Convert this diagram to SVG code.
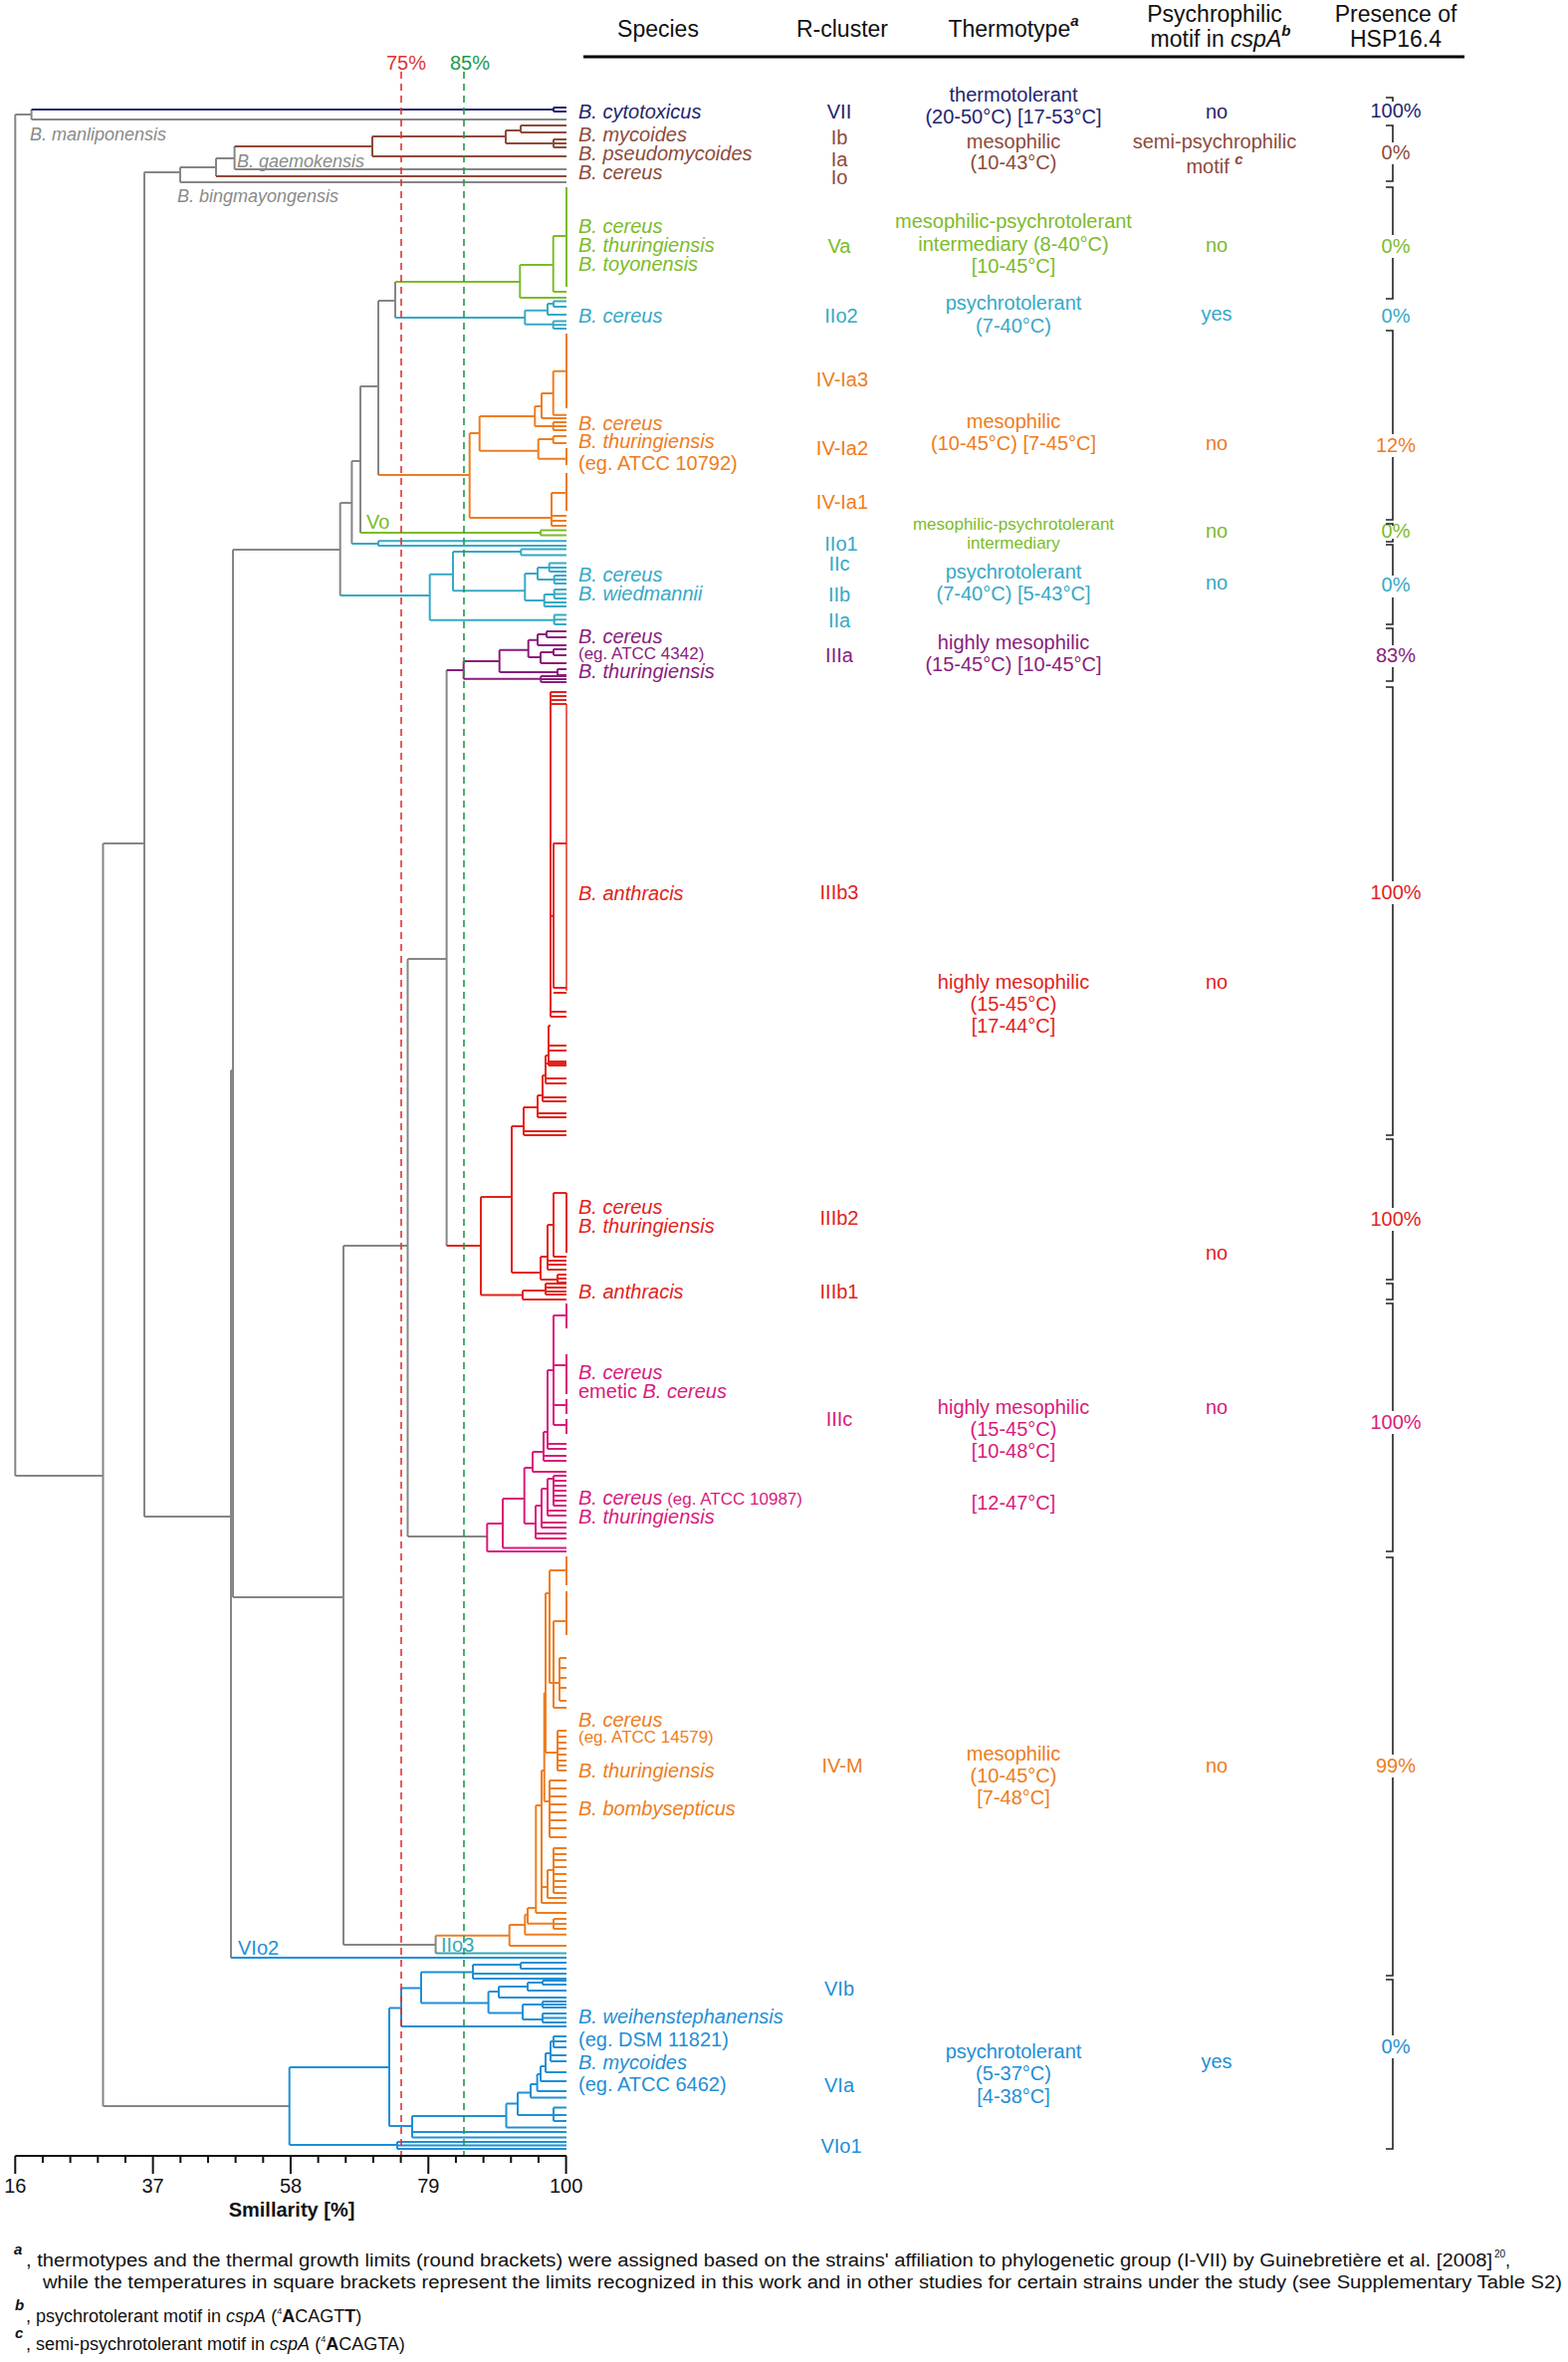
<svg xmlns="http://www.w3.org/2000/svg" width="1575" height="2372" viewBox="0 0 1575 2372">
<style>
text{font-family:"Liberation Sans",Arial,sans-serif}
.l{fill:none;stroke-width:2}
.gy{stroke:#868686}.nv{stroke:#24246e}.bn{stroke:#8d4b3b}.gn{stroke:#7cbb2b}.cy{stroke:#36a9c6}.or{stroke:#ee7d21}.pu{stroke:#8a1d7c}.rd{stroke:#e2231c}.mg{stroke:#d91b7c}.bl{stroke:#1f8fd6}.tl{stroke:#3aa8b4}
.fgy{fill:#8a8a8a}.fnv{fill:#24246e}.fbn{fill:#8d4b3b}.fgn{fill:#7cbb2b}.fcy{fill:#36a9c6}.for{fill:#ee7d21}.fpu{fill:#8a1d7c}.frd{fill:#e2231c}.fmg{fill:#d91b7c}.fbl{fill:#1f8fd6}.ftl{fill:#3aa8b4}
.hd{font-size:23px;text-anchor:middle;fill:#111}
.sp{font-size:20px;font-style:italic}
.sg{font-size:18px;font-style:italic}
.sm{font-size:17px;font-style:normal}
.rc{font-size:20px;text-anchor:middle}
.c{font-size:20px;text-anchor:middle}
.c17{font-size:17px;text-anchor:middle}
.br{fill:none;stroke:#222;stroke-width:1.6}
.ax{fill:none;stroke:#111;stroke-width:2}
.tk{font-size:20px;text-anchor:middle;fill:#111}
.fn{font-size:18px;fill:#111}
.fs{font-size:15px;fill:#111;font-weight:bold;font-style:italic}
.f10{font-size:10px;fill:#111}
.sup{font-weight:bold;font-style:italic}
</style>
<rect width="1575" height="2372" fill="#fff"/>

<g id="header">
<text class="hd" x="661" y="37">Species</text>
<text class="hd" x="846" y="37">R-cluster</text>
<text class="hd" x="1018" y="37">Thermotype<tspan class="sup" font-size="15" dy="-11">a</tspan></text>
<text class="hd" x="1220" y="22">Psychrophilic</text>
<text class="hd" x="1226" y="47">motif in <tspan font-style="italic">cspA</tspan><tspan class="sup" font-size="15" dy="-11">b</tspan></text>
<text class="hd" x="1402" y="22">Presence of</text>
<text class="hd" x="1402" y="47">HSP16.4</text>
<path d="M586 57 H1471" stroke="#000" stroke-width="3"/>
</g>

<g id="connectors">
<path class="l gy" d="M15.3 115 V1482 M15.3 115 H31.6 M31.6 110 V120 M31.6 120 H569 M15.3 1482 H103.5 M103.5 847 V2115 M103.5 847 H145 M145 173 V1523 M145 1523 H232 M145 173 H181 M181 168 V183 M181 183 H569 M181 168 H217 M217 159 V177 M217 159 H235.6 M235.6 147 V170 M235.6 170 H569 M232 1075 V1966 M232 1075 H234 M234 552 V1604 M234 552 H341.7 M341.7 505 V598 M341.7 505 H353.4 M353.4 463 V546 M353.4 463 H362 M362 388 V535 M362 388 H380 M380 302 V477 M380 302 H397 M397 283 V319 M234 1604 H345 M345 1251 V1953 M345 1251 H409.5 M409.5 963 V1543 M409.5 963 H448.6 M448.6 673 V1251 M409.5 1543 H489.3 M345 1953 H437.6 M437.6 1943.7 V1961.6 M103.5 2115 H290.7"/>
<path class="l nv" d="M31.6 110 H556 M556 108 V112 M556 108 H569 M556 112 H569"/>
<path class="l bn" d="M217 177 H569 M235.6 147 H374 M374 137 V157 M374 157 H569 M374 137 H508 M508 131 V144 M508 131 H523 M523 126 V133 M523 126 H569 M523 133 H569 M508 144 H556 M556 140 V148 M556 140 H569 M556 144 H569 M556 148 H569"/>
<path class="l gn" d="M397 283 H522.3 M522.3 266 V299 M522.3 266 H555.7 M555.7 237 V293 M555.7 237 H569 M569 188 V288 M555.7 293 H569 M522.3 299 H569 M362 535 H543 M543 532.5 V537.5 M543 532.5 H569 M543 537.5 H569"/>
<path class="l cy" d="M397 319 H527.3 M527.3 311.7 V325.7 M527.3 311.7 H550 M550 305 V316 M550 305 H556 M556 302.5 V308 M556 302.5 H569 M556 308 H569 M550 316 H569 M527.3 325.7 H555.7 M555.7 322.5 V330 M555.7 322.5 H569 M555.7 326.3 H569 M555.7 330 H569 M353.4 546 H380 M380 543.3 V548 M380 543.3 H569 M380 548 H569 M341.7 598 H431.7 M431.7 576.7 V622.7 M431.7 576.7 H455 M455 554 V593.3 M455 554 H523.3 M523.3 551.5 V557.5 M523.3 551.5 H569 M523.3 557.5 H569 M455 593.3 H527.3 M527.3 576 V603 M527.3 576 H540 M540 570 V582 M540 570 H551.7 M551.7 565.5 V574 M551.7 565.5 H569 M551.7 570 H569 M551.7 574 H569 M540 582 H556.7 M556.7 578 V586 M556.7 578 H569 M556.7 582 H569 M556.7 586 H569 M527.3 603 H546.7 M546.7 597 V609 M546.7 597 H556.7 M556.7 592 V601 M556.7 592 H569 M556.7 596.5 H569 M556.7 601 H569 M546.7 605 H569 M546.7 609 H569 M431.7 622.7 H556.7 M556.7 617.5 V627 M556.7 617.5 H569 M556.7 622.3 H569 M556.7 627 H569"/>
<path class="l or" d="M380 477 H471.7 M471.7 435 V520 M471.7 435 H481.7 M481.7 418 V452.7 M481.7 418 H537.3 M537.3 408 V428 M537.3 408 H544 M544 395 V420 M544 395 H555.7 M555.7 372.7 V416.7 M555.7 372.7 H569 M569 335 V410 M555.7 416.7 H569 M544 420 H569 M537.3 428 H555.7 M555.7 424 V432 M555.7 424 H569 M555.7 428 H569 M555.7 432 H569 M481.7 452.7 H540.7 M540.7 441 V460.7 M540.7 441 H555.7 M555.7 438 V445 M555.7 438 H569 M555.7 445 H569 M540.7 460.7 H569 M569 450 V467 M471.7 520 H554 M554 495 V528 M554 495 H569 M569 475 V513 M554 518 H569 M554 523 H569 M554 528 H569"/>
<path class="l pu" d="M448.6 673 H465.7 M465.7 664 V681.7 M465.7 664 H501.7 M501.7 652.7 V675 M501.7 652.7 H530.7 M530.7 642.7 V660 M530.7 642.7 H540 M540 637 V648 M540 637 H549 M549 634 V640 M549 634 H569 M549 640 H569 M540 648 H569 M530.7 660 H543 M543 655 V666 M543 655 H556 M556 652 V658 M556 652 H569 M556 658 H569 M543 666 H569 M501.7 675 H560 M560 672 V678 M560 672 H569 M560 678 H569 M465.7 681.7 H543.3 M543.3 679 V685 M543.3 679 H569 M543.3 682 H569 M543.3 685 H569"/>
<path class="l rd" d="M448.6 1251 H483 M483 1202 V1300.5 M483 1202 H514 M483 1300.5 H525 M525 1296 V1305 M525 1296 H548 M548 1289 V1300 M548 1289 H569 M548 1293 H569 M548 1297 H569 M548 1300 H569 M525 1305 H569 M514 1131 V1278 M514 1131 H526 M514 1278 H543 M543 1262 V1285 M543 1262 H550 M550 1230 V1275 M550 1230 H556 M556 1198 V1262 M556 1198 H569 M569 1198 V1258 M556 1262 H569 M550 1266 H569 M550 1270 H569 M550 1275 H569 M543 1285 H560 M560 1280 V1288 M560 1280 H569 M560 1284 H569 M560 1288 H569 M526 1112 V1140 M526 1140 H569 M526 1136 H569 M526 1112 H540 M540 1100 V1122 M540 1122 H569 M540 1118 H569 M540 1100 H545 M545 1080 V1106 M545 1106 H569 M545 1102 H569 M545 1080 H548 M548 1060 V1088 M548 1088 H569 M548 1083 H569 M548 1068 H569 M548 1060 H551 M551 1030 V1070 M551 1070 H569 M551 1066 H569 M551 1050 H569 M551 1055 H569 M551 1030 H553 M553 695 V1021 M553 1021 H569 M553 1016 H569 M553 695 H569 M553 699 H569 M553 703 H569 M553 707 H569 M553 920 H556 M556 847 V992 M556 847 H569 M556 992 H569 M556 997 H569"/>
<path class="rd" fill="none" stroke-width="1.4" d="M569 707 V995"/>
<path class="l mg" d="M489.3 1530 V1558 M489.3 1558 H569 M489.3 1530 H505 M505 1505 V1554.5 M505 1554.5 H569 M505 1505 H526.7 M526.7 1474 V1530 M526.7 1530 H538 M538 1512 V1545 M538 1545 H569 M538 1540 H569 M538 1512 H544 M544 1495 V1534 M544 1534 H569 M544 1529 H569 M544 1495 H550 M550 1485 V1522 M550 1522 H569 M550 1517 H569 M550 1485 H556 M556 1482 V1512 M556 1482 H569 M556 1487 H569 M556 1492 H569 M556 1497 H569 M556 1502 H569 M556 1507 H569 M556 1512 H569 M526.7 1474 H535 M535 1458 V1478 M535 1478 H569 M535 1458 H546 M546 1438 V1467 M546 1467 H569 M546 1462 H569 M546 1438 H550 M550 1376 V1455 M550 1455 H569 M550 1450 H569 M550 1376 H556 M556 1321 V1431 M556 1431 H569 M556 1411 H569 M556 1371 H569 M556 1321 H569 M569 1309 V1334 M569 1360 V1400 M569 1405 V1420 M569 1425 V1440"/>
<path class="l or" d="M437.6 1943.7 H511.7 M511.7 1933 V1954 M511.7 1954 H569 M511.7 1933 H527.3 M527.3 1922.7 V1942.8 M527.3 1942.8 H569 M527.3 1922.7 H530 M530 1916 V1931.7 M530 1931.7 H556 M556 1927 V1937 M556 1927 H569 M556 1932 H569 M556 1937 H569 M530 1916 H538.3 M538.3 1813 V1921 M538.3 1921 H569 M538.3 1813 H544 M544 1778 V1911 M544 1911 H569 M544 1895 H550 M550 1878 V1906 M550 1906 H569 M550 1878 H556 M556 1856 V1901 M556 1856 H569 M556 1862 H569 M556 1868 H569 M556 1875 H569 M556 1882 H569 M556 1889 H569 M556 1895 H569 M556 1901 H569 M544 1778 H546.7 M546.7 1700 V1809 M546.7 1809 H552 M552 1788 V1845 M552 1788 H569 M552 1796 H569 M552 1804 H569 M552 1812 H569 M552 1820 H569 M552 1828 H569 M552 1836 H569 M552 1845 H569 M546.7 1700 H548 M548 1600 V1760 M548 1760 H560 M560 1738 V1778 M560 1738 H569 M560 1744 H569 M560 1750 H569 M560 1756 H569 M560 1762 H569 M560 1768 H569 M560 1773 H569 M560 1778 H569 M548 1600 H552 M552 1577 V1690 M552 1577 H569 M569 1563 V1592 M552 1690 H556 M556 1628 V1715 M556 1628 H569 M569 1598 V1642 M556 1715 H569 M556 1690 H562 M562 1665 V1708 M562 1665 H569 M562 1675 H569 M562 1685 H569 M562 1695 H569 M562 1708 H569"/>
<path class="l tl" d="M437.6 1961.6 H569"/>
<path class="l bl" d="M232 1966 H569 M290.7 2076 V2154 M290.7 2076 H391 M290.7 2154 H399 M399 2151 V2158 M399 2151 H569 M399 2154.5 H569 M399 2158 H569 M391 2016.6 V2135 M391 2016.6 H403 M391 2135 H414 M403 1996.6 V2035 M403 2035 H569 M403 1996.6 H423 M423 1980.6 V2011.6 M423 1980.6 H475 M475 1973 V1987 M475 1973 H523 M523 1971 V1977 M523 1971 H569 M523 1977 H569 M475 1982 H569 M475 1987 H569 M423 2011.6 H490.6 M490.6 2000 V2021.6 M490.6 2000 H501 M501 1995 V2006 M501 1995 H530 M530 1991 V1999 M530 1991 H545 M545 1989 V1993 M545 1989 H569 M545 1993 H569 M530 1999 H569 M501 2006 H569 M490.6 2021.6 H525 M525 2013 V2028 M525 2013 H545 M545 2010 V2016 M545 2010 H569 M545 2013 H569 M545 2016 H569 M525 2028 H545 M545 2022 V2031 M545 2022 H569 M545 2026.5 H569 M545 2031 H569 M414 2125 V2146.6 M414 2146.6 H569 M414 2141 H569 M414 2125 H508.5 M508.5 2112.6 V2136.6 M508.5 2136.6 H569 M508.5 2112.6 H520 M520 2101.6 V2124 M520 2124 H556 M556 2116.6 V2130 M556 2116.6 H569 M556 2124 H569 M556 2130 H569 M520 2101.6 H533 M533 2093 V2106.6 M533 2106.6 H569 M533 2093 H539.6 M539.6 2083 V2100 M539.6 2100 H569 M539.6 2083 H543 M543 2075 V2090 M543 2090 H569 M543 2075 H548 M548 2062 V2081 M548 2081 H569 M548 2062 H553 M553 2050 V2070 M553 2070 H569 M553 2064 H569 M553 2050 H556 M556 2045 V2056 M556 2045 H569 M556 2050 H569 M556 2056 H569"/>
<path d="M403 72 V2165" fill="none" stroke="#e03333" stroke-width="1.6" stroke-dasharray="7 5"/>
<path d="M466 72 V2165" fill="none" stroke="#1e9a48" stroke-width="1.6" stroke-dasharray="7 5"/>
</g>

<g id="cutoffs">
<text x="408" y="70" font-size="20" text-anchor="middle" fill="#e03333">75%</text>
<text x="472" y="70" font-size="20" text-anchor="middle" fill="#1e9a48">85%</text>
</g>

<g id="inner-labels">
<text class="sg fgy" x="30" y="141">B. manliponensis</text>
<text class="sg fgy" x="238" y="168">B. gaemokensis</text>
<text class="sg fgy" x="178" y="203">B. bingmayongensis</text>
<text class="fgn" x="368" y="531" font-size="20">Vo</text>
<text class="fbl" x="239" y="1963" font-size="20">VIo2</text>
<text class="ftl" x="443" y="1960" font-size="20">IIo3</text>
</g>

<g id="axis">
<path class="ax" d="M15.3 2165 H569" stroke-width="2.5"/>
<path class="ax" stroke-width="1.6" d="M15.3 2165 v18 M42.97 2165 v7 M70.63 2165 v7 M98.3 2165 v7 M125.96 2165 v7 M153.63 2165 v18 M181.29 2165 v7 M208.96 2165 v7 M236.62 2165 v7 M264.29 2165 v7 M291.95 2165 v18 M319.62 2165 v7 M347.28 2165 v7 M374.95 2165 v7 M402.61 2165 v7 M430.28 2165 v18 M457.94 2165 v7 M485.61 2165 v7 M513.27 2165 v7 M540.94 2165 v7 M568.6 2165 v18"/>
<text class="tk" x="15.3" y="2202">16</text>
<text class="tk" x="153.6" y="2202">37</text>
<text class="tk" x="292" y="2202">58</text>
<text class="tk" x="430.3" y="2202">79</text>
<text class="tk" x="568.6" y="2202">100</text>
<text class="tk" x="293" y="2226" font-weight="bold">Smillarity [%]</text>
</g>

<g id="row-VII">
<text class="sp fnv" x="581" y="119">B. cytotoxicus</text>
<text class="rc fnv" x="843" y="119">VII</text>
<text class="c fnv" x="1018" y="102">thermotolerant</text>
<text class="c fnv" x="1018" y="124">(20-50°C) [17-53°C]</text>
<text class="c fnv" x="1222" y="119">no</text>
<text class="c fnv" x="1402" y="118">100%</text>
</g>
<g id="row-I">
<text class="sp fbn" x="581" y="142">B. mycoides</text>
<text class="sp fbn" x="581" y="161">B. pseudomycoides</text>
<text class="sp fbn" x="581" y="180">B. cereus</text>
<text class="rc fbn" x="843" y="145">Ib</text>
<text class="rc fbn" x="843" y="167">Ia</text>
<text class="rc fbn" x="843" y="185">Io</text>
<text class="c fbn" x="1018" y="149">mesophilic</text>
<text class="c fbn" x="1018" y="170">(10-43°C)</text>
<text class="c fbn" x="1220" y="149">semi-psychrophilic</text>
<text class="c fbn" x="1220" y="174">motif <tspan class="sup" font-size="15" dy="-9">c</tspan></text>
<text class="c fbn" x="1402" y="160">0%</text>
</g>
<g id="row-Va">
<text class="sp fgn" x="581" y="234">B. cereus</text>
<text class="sp fgn" x="581" y="253">B. thuringiensis</text>
<text class="sp fgn" x="581" y="272">B. toyonensis</text>
<text class="rc fgn" x="843" y="254">Va</text>
<text class="c fgn" x="1018" y="229">mesophilic-psychrotolerant</text>
<text class="c fgn" x="1018" y="252">intermediary (8-40°C)</text>
<text class="c fgn" x="1018" y="274">[10-45°C]</text>
<text class="c fgn" x="1222" y="253">no</text>
<text class="c fgn" x="1402" y="254">0%</text>
</g>
<g id="row-IIo2">
<text class="sp fcy" x="581" y="324">B. cereus</text>
<text class="rc fcy" x="845" y="324">IIo2</text>
<text class="c fcy" x="1018" y="311">psychrotolerant</text>
<text class="c fcy" x="1018" y="334">(7-40°C)</text>
<text class="c fcy" x="1222" y="322">yes</text>
<text class="c fcy" x="1402" y="324">0%</text>
</g>
<g id="row-IV-Ia">
<text class="rc for" x="846" y="388">IV-Ia3</text>
<text class="sp for" x="581" y="432">B. cereus</text>
<text class="sp for" x="581" y="450">B. thuringiensis</text>
<text class="for" x="581" y="472" font-size="20">(eg. ATCC 10792)</text>
<text class="rc for" x="846" y="457">IV-Ia2</text>
<text class="rc for" x="846" y="511">IV-Ia1</text>
<text class="c for" x="1018" y="430">mesophilic</text>
<text class="c for" x="1018" y="452">(10-45°C) [7-45°C]</text>
<text class="c for" x="1222" y="452">no</text>
<text class="c for" x="1402" y="454">12%</text>
</g>
<g id="row-Vo">
<text class="c17 fgn" x="1018" y="532">mesophilic-psychrotolerant</text>
<text class="c17 fgn" x="1018" y="551">intermediary</text>
<text class="c fgn" x="1222" y="540">no</text>
<text class="c fgn" x="1402" y="540">0%</text>
</g>
<g id="row-II">
<text class="rc fcy" x="845" y="553">IIo1</text>
<text class="rc fcy" x="843" y="573">IIc</text>
<text class="rc fcy" x="843" y="604">IIb</text>
<text class="rc fcy" x="843" y="630">IIa</text>
<text class="sp fcy" x="581" y="584">B. cereus</text>
<text class="sp fcy" x="581" y="603">B. wiedmannii</text>
<text class="c fcy" x="1018" y="581">psychrotolerant</text>
<text class="c fcy" x="1018" y="603">(7-40°C) [5-43°C]</text>
<text class="c fcy" x="1222" y="592">no</text>
<text class="c fcy" x="1402" y="594">0%</text>
</g>
<g id="row-IIIa">
<text class="sp fpu" x="581" y="646">B. cereus</text>
<text class="fpu" x="581" y="662" font-size="17">(eg. ATCC 4342)</text>
<text class="sp fpu" x="581" y="681">B. thuringiensis</text>
<text class="rc fpu" x="843" y="665">IIIa</text>
<text class="c fpu" x="1018" y="652">highly mesophilic</text>
<text class="c fpu" x="1018" y="674">(15-45°C) [10-45°C]</text>
<text class="c fpu" x="1402" y="665">83%</text>
</g>
<g id="row-IIIb">
<text class="sp frd" x="581" y="904">B. anthracis</text>
<text class="rc frd" x="843" y="903">IIIb3</text>
<text class="c frd" x="1402" y="903">100%</text>
<text class="c frd" x="1018" y="993">highly mesophilic</text>
<text class="c frd" x="1018" y="1015">(15-45°C)</text>
<text class="c frd" x="1018" y="1037">[17-44°C]</text>
<text class="c frd" x="1222" y="993">no</text>
<text class="sp frd" x="581" y="1219">B. cereus</text>
<text class="sp frd" x="581" y="1238">B. thuringiensis</text>
<text class="rc frd" x="843" y="1230">IIIb2</text>
<text class="c frd" x="1402" y="1231">100%</text>
<text class="c frd" x="1222" y="1265">no</text>
<text class="sp frd" x="581" y="1304">B. anthracis</text>
<text class="rc frd" x="843" y="1304">IIIb1</text>
</g>
<g id="row-IIIc">
<text class="sp fmg" x="581" y="1385">B. cereus</text>
<text class="sp fmg" x="581" y="1404"><tspan font-style="normal">emetic </tspan>B. cereus</text>
<text class="rc fmg" x="843" y="1432">IIIc</text>
<text class="c fmg" x="1018" y="1420">highly mesophilic</text>
<text class="c fmg" x="1018" y="1442">(15-45°C)</text>
<text class="c fmg" x="1018" y="1464">[10-48°C]</text>
<text class="c fmg" x="1018" y="1516">[12-47°C]</text>
<text class="c fmg" x="1222" y="1420">no</text>
<text class="c fmg" x="1402" y="1435">100%</text>
<text class="sp fmg" x="581" y="1511">B. cereus<tspan class="sm"> (eg. ATCC 10987)</tspan></text>
<text class="sp fmg" x="581" y="1530">B. thuringiensis</text>
</g>
<g id="row-IV-M">
<text class="sp for" x="581" y="1734">B. cereus</text>
<text class="for" x="581" y="1750" font-size="17">(eg. ATCC 14579)</text>
<text class="sp for" x="581" y="1785">B. thuringiensis</text>
<text class="sp for" x="581" y="1823">B. bombysepticus</text>
<text class="rc for" x="846" y="1780">IV-M</text>
<text class="c for" x="1018" y="1768">mesophilic</text>
<text class="c for" x="1018" y="1790">(10-45°C)</text>
<text class="c for" x="1018" y="1812">[7-48°C]</text>
<text class="c for" x="1222" y="1780">no</text>
<text class="c for" x="1402" y="1780">99%</text>
</g>
<g id="row-VI">
<text class="rc fbl" x="843" y="2004">VIb</text>
<text class="sp fbl" x="581" y="2032">B. weihenstephanensis</text>
<text class="fbl" x="581" y="2055" font-size="20">(eg. DSM 11821)</text>
<text class="sp fbl" x="581" y="2078">B. mycoides</text>
<text class="fbl" x="581" y="2100" font-size="20">(eg. ATCC 6462)</text>
<text class="rc fbl" x="843" y="2101">VIa</text>
<text class="rc fbl" x="845" y="2162">VIo1</text>
<text class="c fbl" x="1018" y="2067">psychrotolerant</text>
<text class="c fbl" x="1018" y="2089">(5-37°C)</text>
<text class="c fbl" x="1018" y="2112">[4-38°C]</text>
<text class="c fbl" x="1222" y="2077">yes</text>
<text class="c fbl" x="1402" y="2062">0%</text>
</g>

<g id="brackets">
<path class="br" d="M1392 98 H1399 V102 M1392 126 H1399 V143 M1399 165 V182 H1392 M1392 188 H1399 V236 M1399 259 V300 H1392 M1392 332 H1399 V436 M1399 459 V522 H1392 M1392 526 H1399 V528 M1399 541 V544 H1392 M1392 547 H1399 V578 M1399 600 V627 H1392 M1392 631 H1399 V648 M1399 670 V684 H1392 M1392 690 H1399 V885 M1399 908 V1140 H1392 M1392 1144 H1399 V1213 M1399 1236 V1285 H1392 M1392 1289 H1399 V1305 H1392 M1392 1309 H1399 V1417 M1399 1440 V1558 H1392 M1392 1564 H1399 V1762 M1399 1785 V1984 H1392 M1392 1988 H1399 V2044 M1399 2067 V2158 H1392"/>
</g>

<g id="footnotes">
<text class="fs" x="14" y="2264">a</text>
<text class="fn" x="26" y="2276" textLength="1473" lengthAdjust="spacingAndGlyphs">, thermotypes and the thermal growth limits (round brackets) were assigned based on the strains' affiliation to phylogenetic group (I-VII) by Guinebretière et al. [2008]</text>
<text class="f10" x="1501" y="2267">20</text>
<text class="fn" x="1512" y="2276">,</text>
<text class="fn" x="43" y="2298" textLength="1526" lengthAdjust="spacingAndGlyphs">while the temperatures in square brackets represent the limits recognized in this work and in other studies for certain strains under the study (see Supplementary Table S2)</text>
<text class="fs" x="15" y="2320">b</text>
<text class="fn" x="26" y="2332">, psychrotolerant motif in <tspan font-style="italic">cspA</tspan> (<tspan font-size="9" dy="-8">4</tspan><tspan font-weight="bold" dy="8">A</tspan>CAGT<tspan font-weight="bold">T</tspan>)</text>
<text class="fs" x="15" y="2348">c</text>
<text class="fn" x="26" y="2360">, semi-psychrotolerant motif in <tspan font-style="italic">cspA</tspan> (<tspan font-size="9" dy="-8">4</tspan><tspan font-weight="bold" dy="8">A</tspan>CAGTA)</text>
</g>
</svg>
